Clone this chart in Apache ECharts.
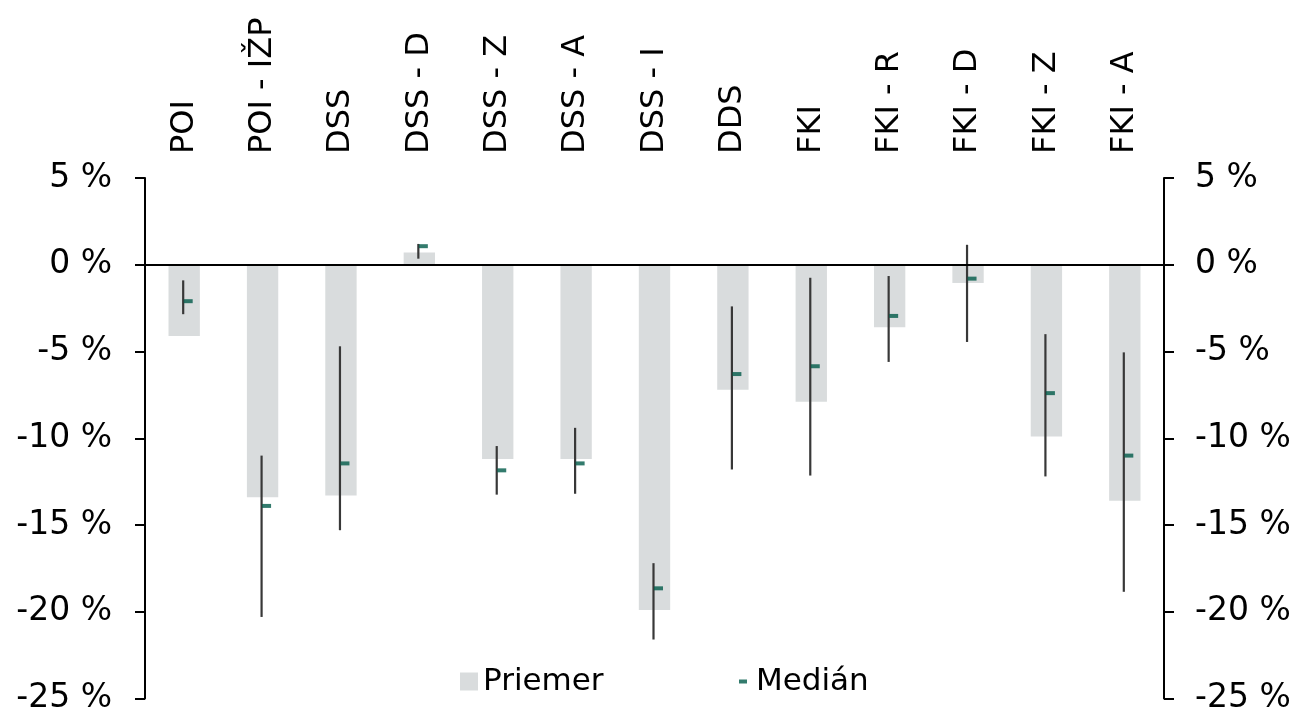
<!DOCTYPE html>
<html><head><meta charset="utf-8">
<script src="https://cdn.jsdelivr.net/npm/echarts@6/dist/echarts.min.js"></script>
<style>html,body{margin:0;padding:0;background:#fff}#c{width:1298px;height:715px}</style>
</head><body><div id="c"></div>
<script>
const categories = ['POI','POI - IŽP','DSS','DSS - D','DSS - Z','DSS - A','DSS - I','DDS','FKI','FKI - R','FKI - D','FKI - Z','FKI - A'];
const meanValues = [-4.1,-13.4,-13.3,0.7,-11.2,-11.2,-19.9,-7.2,-7.9,-3.6,-1.05,-9.9,-13.6];
const medianValues = [-2.1,-13.9,-11.45,1.07,-11.85,-11.45,-18.65,-6.3,-5.85,-2.95,-0.8,-7.4,-11.0];
const rangeHigh = [-0.9,-11.0,-4.7,1.2,-10.45,-9.4,-17.2,-2.4,-0.75,-0.65,1.15,-4.0,-5.05];
const rangeLow = [-2.85,-20.3,-15.3,0.35,-13.25,-13.2,-21.6,-11.8,-12.15,-5.6,-4.45,-12.2,-18.85];
const yTicks = {min:-25, max:5, interval:5};

const font = 'DejaVu Sans, Verdana, sans-serif';
const chart = echarts.init(document.getElementById('c'));
const yAxisCommon = {
  type:'value', min:yTicks.min, max:yTicks.max, interval:yTicks.interval,
  axisLine:{show:true, lineStyle:{color:'#000', width:2}},
  axisTick:{show:true, inside:false, length:10, lineStyle:{color:'#000', width:2}},
  splitLine:{show:false},
  axisLabel:{formatter: v => v + ' %', color:'#000', fontSize:33, fontFamily:font}
};
chart.setOption({
  animation:false,
  grid:{left:145, right:134, top:178, bottom:13, containLabel:false},
  legend:[
    {data:['Priemer'], left:455, top:661, itemWidth:18, itemHeight:18, icon:'rect',
     textStyle:{fontSize:31, fontFamily:font, color:'#000', padding:[0,0,0,0]}},
    {data:['Medián'], left:734, top:661, itemWidth:8, itemHeight:4, icon:'rect',
     textStyle:{fontSize:31, fontFamily:font, color:'#000', padding:[0,0,0,4]}}
  ],
  xAxis:{
    type:'category', data:categories, position:'top',
    axisLine:{show:false}, axisTick:{show:false},
    axisLabel:{rotate:90, margin:24, color:'#000', fontSize:32, fontFamily:font, interval:0}
  },
  yAxis:[
    Object.assign({}, yAxisCommon, {position:'left', axisLabel:Object.assign({}, yAxisCommon.axisLabel, {margin:33})}),
    Object.assign({}, yAxisCommon, {position:'right', axisLabel:Object.assign({}, yAxisCommon.axisLabel, {margin:31})})
  ],
  series:[
    {name:'Priemer', type:'bar', data:meanValues, barWidth:'40%',
     itemStyle:{color:'#D9DCDD'},
     markLine:{silent:true, symbol:'none', label:{show:false},
       lineStyle:{color:'#000', width:2, type:'solid'}, data:[{yAxis:0}]}},
    {name:'Rozpätie', type:'custom', z:3,
     data: categories.map((c,i)=>[i, rangeLow[i], rangeHigh[i]]),
     renderItem:(params, api)=>{
       const p1 = api.coord([api.value(0), api.value(1)]);
       const p2 = api.coord([api.value(0), api.value(2)]);
       return {type:'line', shape:{x1:p1[0]-1, y1:p1[1], x2:p2[0]-1, y2:p2[1]},
               style:{stroke:'#383838', lineWidth:2.2}};
     }},
    {name:'Medián', type:'scatter', z:4, data:medianValues, symbol:'rect',
     symbolSize:[9,4], symbolOffset:[4,0], itemStyle:{color:'#005A49'}}
  ]
});
</script></body></html>
